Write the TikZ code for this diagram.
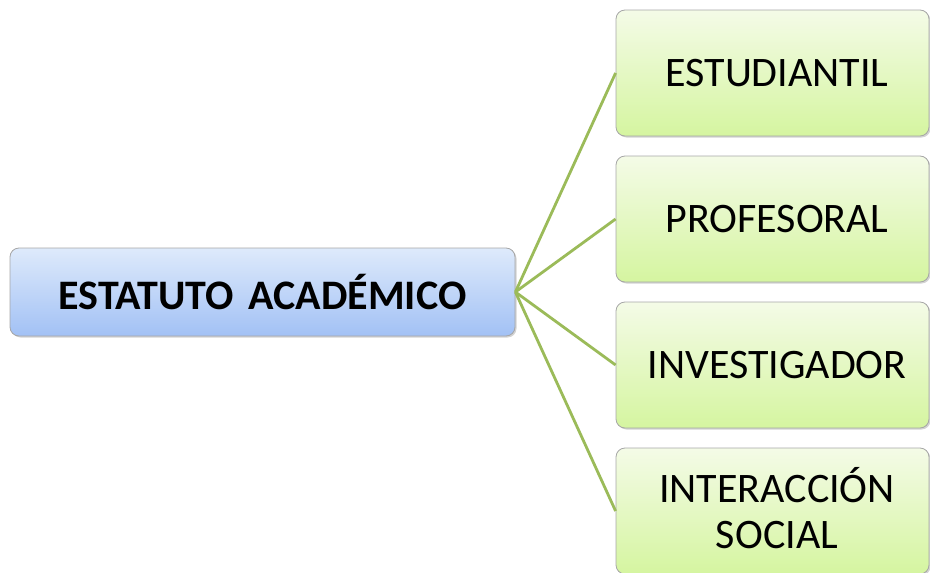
\documentclass[tikz,border=0pt]{standalone}
\usepackage{fontspec}
\setmainfont{Carlito}
\usetikzlibrary{shadows}
\begin{document}
\begin{tikzpicture}[x=1pt,y=-1pt,
  box/.style={draw=black!35, line width=0.8pt, rounded corners=9pt, inner sep=0pt,
    drop shadow={shadow xshift=1.5pt, shadow yshift=-1.5pt, opacity=0.35}},
  rootbox/.style={box, top color={rgb,255:red,222;green,234;blue,251}, bottom color={rgb,255:red,162;green,193;blue,245},
    minimum width=505pt, minimum height=88pt, font=\fontsize{42}{48}\selectfont\bfseries},
  leafbox/.style={box, top color={rgb,255:red,244;green,251;blue,231}, bottom color={rgb,255:red,213;green,245;blue,160},
    minimum width=313pt, minimum height=126pt},
  leaftext/.style={align=center, inner sep=0pt, font=\fontsize{42}{46}\selectfont},
  link/.style={draw={rgb,255:red,155;green,187;blue,89}, line width=2.8pt}]
\useasboundingbox (0,0) rectangle (930,573);
\node[rootbox] (root) at (262.5,292) {ESTATUTO\hspace{0.35em}ACADÉMICO};
\node[leafbox] (a) at (772.5,73) {};
\node[leafbox] (b) at (772.5,219) {};
\node[leafbox] (c) at (772.5,365) {};
\node[leafbox] (d) at (772.5,511) {};
\node[leaftext] (at) at (777,73) {ESTUDIANTIL};
\node[leaftext] (bt) at (777,219) {PROFESORAL};
\node[leaftext] (ct) at (777,365) {INVESTIGADOR};
\node[leaftext] (dt) at (777,508) {INTERACCIÓN\\SOCIAL};
\foreach \n in {a,b,c,d} \draw[link] (root.east) -- (\n.west);
\end{tikzpicture}
\end{document}
